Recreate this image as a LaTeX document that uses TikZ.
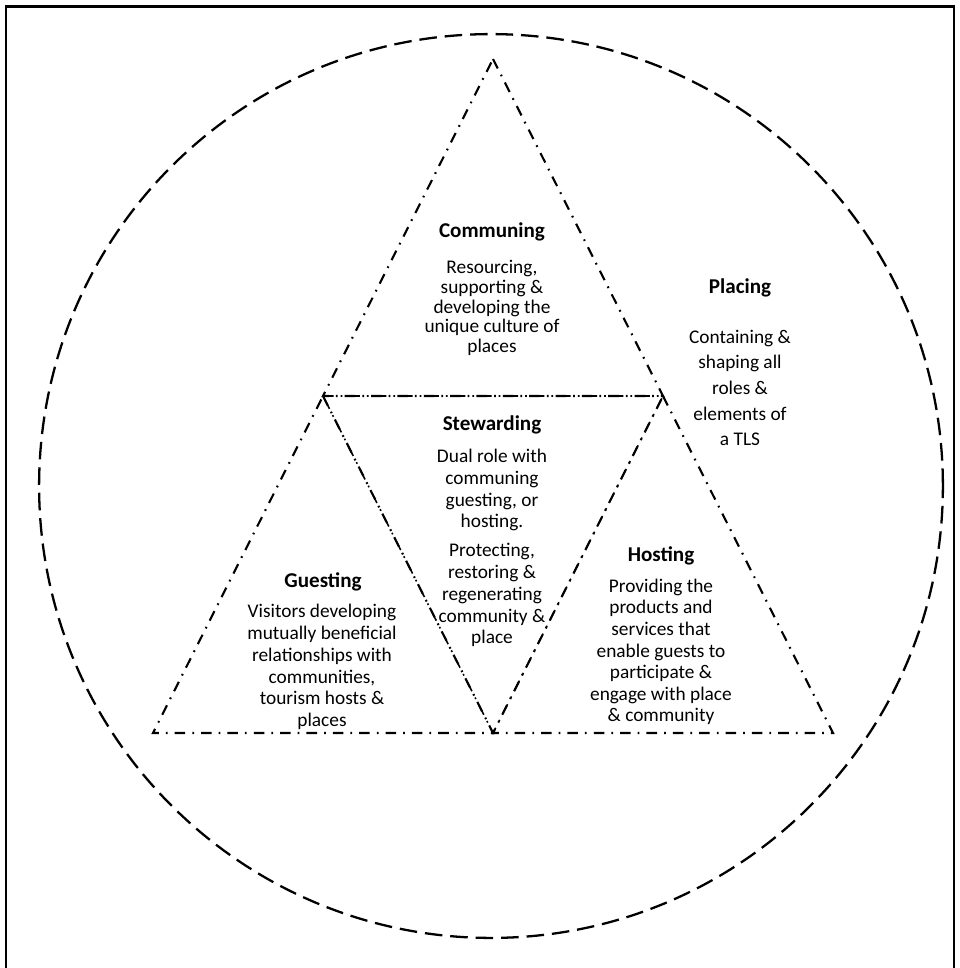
\documentclass[tikz,border=0pt]{standalone}
\usepackage{fontspec}
\setmainfont{Carlito}
\usetikzlibrary{positioning}

\begin{document}
\begin{tikzpicture}[x=0.02cm, y=-0.02cm,
  roleline/.style={line width=1.2pt, dash pattern=on 6pt off 4pt on 1pt off 4pt},
  rolehead/.style={font=\fontsize{12}{14}\selectfont\bfseries, inner sep=0pt},
  roletext/.style={font=\fontsize{11}{12.3}\selectfont, align=center, inner sep=0pt}]
  \useasboundingbox (0,0) rectangle (960,968);
  % frame and the placing circle
  \draw[line width=1.7pt] (6,975) -- (6,6) -- (954,6) -- (954,975);
  \draw[line width=1.3pt, dash pattern=on 10pt off 4.5pt] (491,486) circle (9.04cm);
  % corners of the triangles
  \coordinate (top) at (493,59);
  \coordinate (botl) at (153,733);
  \coordinate (botr) at (833,733);
  \coordinate (midl) at (323,396);
  \coordinate (midr) at (663,396);
  \coordinate (midb) at (493,733);
  \draw[roleline] (top) -- (midr) -- (midl) -- cycle;
  \draw[roleline] (midl) -- (midb) -- (botl) -- cycle;
  \draw[roleline] (midr) -- (botr) -- (midb) -- cycle;
  \draw[roleline, line width=0.9pt] (midl) -- (midr) -- (midb) -- cycle;
  % roles
  \node[rolehead] (comm) at (492,232) {Communing};
  \node[roletext, font=\fontsize{11}{11.3}\selectfont] (commtxt) at (492,308)
    {Resourcing,\\supporting \&\\developing the\\unique culture of\\places};
  \node[rolehead] (plac) at (740,288) {Placing};
  \node[roletext, font=\fontsize{11}{14.6}\selectfont] (plactxt) at (740,388)
    {Containing \&\\shaping all\\roles \&\\elements of\\a TLS};
  \node[rolehead] (stew) at (492,425) {Stewarding};
  \node[roletext, font=\fontsize{11}{12.4}\selectfont] (stewtxt) at (492,548)
    {Dual role with\\communing\\guesting, or\\hosting.\\[4pt]Protecting,\\restoring \&\\regenerating\\community \&\\place};
  \node[rolehead] (gues) at (323,582) {Guesting};
  \node[roletext, font=\fontsize{11}{12.4}\selectfont] (guestxt) at (322,667)
    {Visitors developing\\mutually beneficial\\relationships with\\communities,\\tourism hosts \&\\places};
  \node[rolehead] (host) at (661,556) {Hosting};
  \node[roletext] (hosttxt) at (661,652)
    {Providing the\\products and\\services that\\enable guests to\\participate \&\\engage with place\\\& community};
\end{tikzpicture}
\end{document}
